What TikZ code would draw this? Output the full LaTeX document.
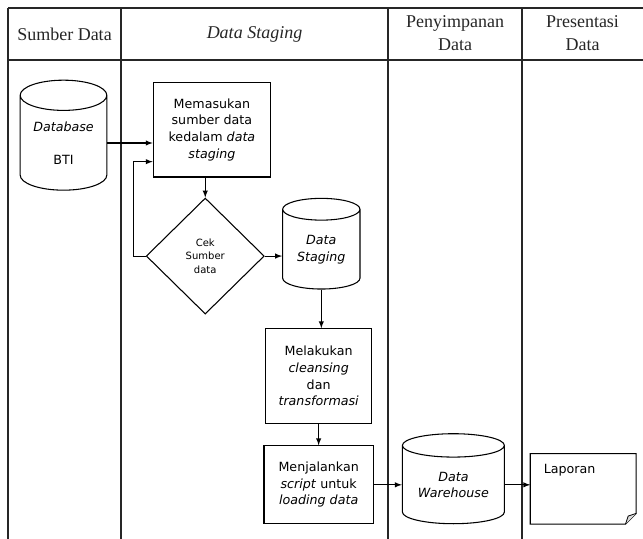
\documentclass[tikz,border=0pt]{standalone}
\usepackage{fontspec}
\setmainfont{Liberation Serif}
\newfontfamily\bodyfont{DejaVu Sans}
\usepackage{tikz}
\usetikzlibrary{arrows,positioning,shapes.geometric,calc}

\begin{document}
\begin{tikzpicture}[
  x=0.75pt, y=-0.75pt,
  node distance=15pt and 15pt,
  lane/.style={line width=0.8pt, black!85},
  hdr/.style={font=\fontsize{13.5}{17}\selectfont, align=center, text=black!85},
  proc/.style={draw, line width=0.8pt, font=\bodyfont\fontsize{9.5}{12.5}\selectfont,
               align=center, inner sep=1pt},
  store/.style={draw, cylinder, shape border rotate=90, line width=0.8pt,
                font=\bodyfont\fontsize{9.5}{12.5}\selectfont, align=center, inner sep=0pt},
  check/.style={draw, diamond, line width=0.8pt, inner sep=0pt,
                font=\bodyfont\fontsize{7.5}{10}\selectfont, align=center},
  arr/.style={-latex, line width=0.8pt},
]
\useasboundingbox (0,0) rectangle (643,539);

% swimlane table
\draw[lane] (8,8) -- (643,8);
\draw[lane] (8,60) -- (643,60);
\foreach \x in {8,121,388,522}
  \draw[lane] (\x,8) -- (\x,539);

\node[hdr] (hsrc) at (64.5,34) {Sumber Data};
\node[hdr] (hstg) at (254.5,34) {\textit{Data Staging}};
\node[hdr] (hstore) at (455,33) {Penyimpanan\\Data};
\node[hdr] (hpres) at (582.5,33) {Presentasi\\Data};

% flow
\node[store, minimum width=65pt, minimum height=82.5pt, aspect=0.5] (db) at (63.5,143)
  {\textit{Database}\\[12pt]BTI};
\node[proc, right=34pt of db, yshift=10pt, minimum width=88pt, minimum height=71pt] (mem)
  {Memasukan\\sumber data\\kedalam \textit{data}\\\textit{staging}};
\node[check, below=15pt of mem, xshift=-5pt, minimum width=88.5pt, minimum height=87pt] (cek)
  {Cek\\Sumber\\data};
\node[store, right=13pt of cek, yshift=5pt, minimum width=58pt, minimum height=68pt,
      aspect=0.45] (ds) {\textit{Data}\\\textit{Staging}};
\node[proc, below=29pt of ds, xshift=-2pt, minimum width=79.5pt, minimum height=71pt] (mel)
  {Melakukan\\\textit{cleansing}\\dan\\\textit{transformasi}};
\node[proc, below=16pt of mel, minimum width=82pt, minimum height=58.5pt] (run)
  {Menjalankan\\\textit{script} untuk\\\textit{loading data}};
\node[store, right=21pt of run, minimum width=76.5pt, minimum height=67.5pt,
      aspect=0.33] (dw) {\textit{Data}\\\textit{Warehouse}};
\node[right=19pt of dw, yshift=-3pt, minimum width=79pt, minimum height=52.5pt,
      inner sep=0pt,
      label={[anchor=north west, xshift=10pt, yshift=-8pt, inner sep=0pt,
              font=\bodyfont\fontsize{9.5}{12.5}\selectfont]north west:Laporan}] (lap) {};
\draw[line width=0.8pt] (lap.north west) -- (lap.north east) -- ([yshift=8pt]lap.south east)
  -- ([xshift=-8pt]lap.south east) -- (lap.south west) -- cycle;
\draw[line width=0.6pt, fill=black!15] ([xshift=-8pt]lap.south east)
  -- ([xshift=-6pt, yshift=6pt]lap.south east) -- ([yshift=8pt]lap.south east);

\draw[arr] (db.east) -- (db.east -| mem.west);
\draw[arr] (mem.south -| cek.north) -- (cek.north);
\draw[arr] (cek.west) -- ++(-12,0) |- ($(mem.west)+(0,32)$);
\draw[arr] (cek.east) -- (cek.east -| ds.west);
\draw[arr] (ds.south) -- (ds.south |- mel.north);
\draw[arr] (mel.south) -- (run.north);
\draw[arr] (run.east) -- (run.east -| dw.west);
\draw[arr] (dw.east) -- (dw.east -| lap.west);
\end{tikzpicture}
\end{document}
